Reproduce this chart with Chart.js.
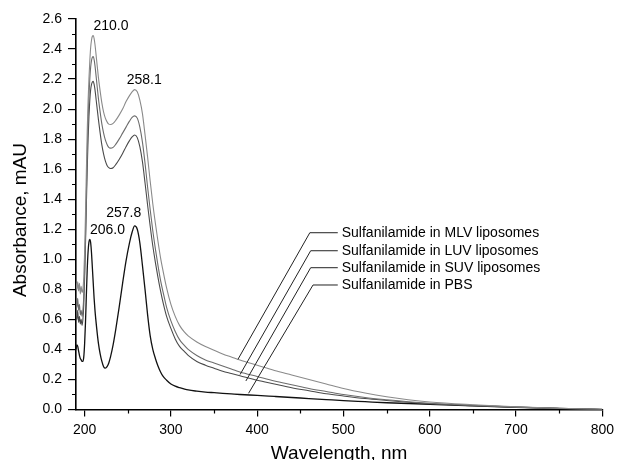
<!DOCTYPE html>
<html>
<head>
<meta charset="utf-8">
<script src="https://cdn.jsdelivr.net/npm/chart.js@4.4.1/dist/chart.umd.min.js"></script>
<style>
  html, body { margin: 0; padding: 0; background: #fff; }
  #wrap { width: 619px; height: 460px; }
</style>
</head>
<body>
<div id="wrap"><canvas id="c" width="619" height="460"></canvas></div>
<script>
// ---- data ----
const wavelengths = [190,191,192,193,194,195,196,197,198,199,200,201,202,203,204,205,206,207,208,209,210,211,212,
  214,216,218,220,222,224,226,228,230,233,236,240,244,248,252,255,258,261,264,267,270,273,276,279,282,285,288,291,295,
  300,305,310,315,320,330,340,350,360,370,380,400,420,440,460,480,500,525,550,575,600,650,700,750,800];

const mlvValues = [0.84,0.80,0.85,0.79,0.84,0.77,0.82,0.78,0.80,0.88,1.05,1.30,1.58,1.85,2.05,2.20,2.32,2.41,2.46,2.485,2.49,2.47,2.43,
  2.32,2.21,2.12,2.04,1.98,1.94,1.915,1.90,1.898,1.905,1.925,1.96,2.00,2.05,2.09,2.115,2.13,2.115,2.06,1.97,1.83,1.68,1.52,1.37,1.24,1.12,1.01,0.92,0.81,
  0.70,0.62,0.56,0.52,0.49,0.45,0.42,0.395,0.37,0.35,0.33,0.295,0.26,0.23,0.20,0.17,0.14,0.11,0.085,0.065,0.05,0.032,0.018,0.008,0.0];

const luvValues = [0.72,0.68,0.74,0.66,0.70,0.63,0.66,0.62,0.66,0.75,0.92,1.15,1.43,1.70,1.92,2.08,2.20,2.28,2.325,2.345,2.35,2.33,2.29,
  2.18,2.07,1.98,1.90,1.84,1.795,1.765,1.745,1.74,1.745,1.765,1.80,1.84,1.88,1.92,1.945,1.955,1.94,1.88,1.78,1.64,1.48,1.33,1.19,1.07,0.96,0.86,0.78,0.68,
  0.59,0.52,0.465,0.43,0.40,0.36,0.33,0.31,0.29,0.27,0.25,0.22,0.19,0.165,0.14,0.12,0.10,0.08,0.065,0.052,0.042,0.028,0.016,0.007,0.0];

const suvValues = [0.62,0.60,0.66,0.58,0.62,0.57,0.60,0.56,0.60,0.70,0.88,1.10,1.36,1.60,1.80,1.95,2.06,2.13,2.165,2.18,2.185,2.165,2.13,
  2.03,1.93,1.84,1.76,1.70,1.655,1.625,1.61,1.605,1.61,1.63,1.665,1.705,1.75,1.79,1.815,1.828,1.81,1.75,1.65,1.51,1.36,1.22,1.09,0.98,0.88,0.79,0.71,0.62,
  0.54,0.47,0.42,0.39,0.36,0.32,0.295,0.275,0.255,0.24,0.225,0.195,0.17,0.145,0.125,0.105,0.09,0.073,0.06,0.048,0.038,0.025,0.015,0.007,0.0];

const pbsValues = [0.40,0.43,0.42,0.39,0.36,0.34,0.33,0.32,0.32,0.35,0.44,0.58,0.76,0.93,1.05,1.115,1.133,1.11,1.04,0.94,0.84,0.74,0.66,
  0.54,0.44,0.37,0.32,0.285,0.275,0.285,0.31,0.35,0.43,0.53,0.68,0.84,0.99,1.11,1.18,1.222,1.20,1.11,0.96,0.80,0.63,0.49,0.40,0.34,0.29,0.25,0.22,0.195,
  0.17,0.155,0.145,0.137,0.13,0.122,0.116,0.112,0.108,0.104,0.10,0.094,0.087,0.08,0.073,0.066,0.059,0.052,0.045,0.04,0.035,0.025,0.015,0.007,0.0];

const seriesNames = ['Sulfanilamide in MLV liposomes','Sulfanilamide in LUV liposomes','Sulfanilamide in SUV liposomes','Sulfanilamide in PBS'];
const peakLabelTexts = ['210.0','258.1','257.8','206.0'];
const xTickValues = [200,300,400,500,600,700,800];
const xMinorTickValues = [250,350,450,550,650,750];
const yTickValues = [0,0.2,0.4,0.6,0.8,1.0,1.2,1.4,1.6,1.8,2.0,2.2,2.4,2.6];
const yMinorTickValues = [0.1,0.3,0.5,0.7,0.9,1.1,1.3,1.5,1.7,1.9,2.1,2.3,2.5];
const xTitle = 'Wavelength, nm';
const yTitle = 'Absorbance, mAU';

// ---- layout / style (not data) ----
const FONT = '"Liberation Sans", Arial, Helvetica, sans-serif';
const lineColors = ['#8a8a8a','#6c6c6c','#4a4a4a','#111111'];
const peakLabelPos = [[230.5,2.555],[269,2.19],[245.3,1.306],[226.5,1.195]];
const legendTextX = 498;
const legendY = [1.177,1.057,0.944,0.829];
const leaderStartX = [461,462,462,464.7];
const leaderEndX = 493.4;
const leaderTip = [[377.7,0.334],[380.2,0.233],[386.9,0.19],[390,0.108]];

const allSeries = [mlvValues, luvValues, suvValues, pbsValues];

const annotPlugin = {
  id: 'annot',
  afterDatasetsDraw(chart) {
    const ctx = chart.ctx, xs = chart.scales.x, ys = chart.scales.y;
    ctx.save();
    // minor ticks
    ctx.strokeStyle = '#000'; ctx.lineWidth = 1.2;
    ctx.beginPath();
    yMinorTickValues.forEach(v => {
      const p = Math.round(ys.getPixelForValue(v)) + 0.5;
      ctx.moveTo(xs.left - 4, p); ctx.lineTo(xs.left, p);
    });
    xMinorTickValues.forEach(v => {
      const p = Math.round(xs.getPixelForValue(v)) + 0.5;
      ctx.moveTo(p, ys.bottom); ctx.lineTo(p, ys.bottom + 4);
    });
    ctx.stroke();
    // peak labels
    ctx.fillStyle = '#000';
    ctx.font = '14px ' + FONT;
    ctx.textAlign = 'center'; ctx.textBaseline = 'middle';
    peakLabelTexts.forEach((t, i) => {
      ctx.fillText(t, xs.getPixelForValue(peakLabelPos[i][0]), ys.getPixelForValue(peakLabelPos[i][1]));
    });
    // legend with leader lines
    ctx.textAlign = 'left';
    ctx.strokeStyle = '#222'; ctx.lineWidth = 1;
    seriesNames.forEach((t, i) => {
      const yy = ys.getPixelForValue(legendY[i]);
      ctx.beginPath();
      ctx.moveTo(xs.getPixelForValue(leaderTip[i][0]), ys.getPixelForValue(leaderTip[i][1]));
      ctx.lineTo(xs.getPixelForValue(leaderStartX[i]), yy);
      ctx.lineTo(xs.getPixelForValue(leaderEndX), yy);
      ctx.stroke();
      ctx.fillText(t, xs.getPixelForValue(legendTextX), yy);
    });
    // axis titles
    ctx.font = '19px ' + FONT;
    ctx.textAlign = 'center';
    ctx.fillText(xTitle, (xs.left + xs.right) / 2, 454);
    ctx.save();
    ctx.translate(21, 220);
    ctx.rotate(-Math.PI / 2);
    ctx.fillText(yTitle, 0, 0);
    ctx.restore();
    ctx.restore();
  }
};

new Chart(document.getElementById('c'), {
  type: 'line',
  data: {
    datasets: allSeries.map((vals, i) => ({
      label: seriesNames[i],
      data: wavelengths.map((w, k) => ({ x: w, y: vals[k] })),
      borderColor: lineColors[i],
      borderWidth: i === 3 ? 1.3 : 1.1,
      pointRadius: 0,
      fill: false,
      cubicInterpolationMode: 'monotone'
    }))
  },
  options: {
    responsive: false,
    animation: false,
    devicePixelRatio: 1,
    layout: { padding: { top: 19, right: 12.3, left: 0, bottom: 0 } },
    plugins: { legend: { display: false }, tooltip: { enabled: false } },
    scales: {
      x: {
        type: 'linear', min: 190, max: 800,
        afterFit(s) { s.height = 50.5; },
        afterBuildTicks(s) { s.ticks = xTickValues.map(v => ({ value: v })); },
        ticks: { color: '#000', font: { size: 14, family: FONT }, padding: 5, maxRotation: 0, autoSkip: false,
                 callback: v => String(v) },
        grid: { drawOnChartArea: false, tickLength: 7, color: '#000', lineWidth: 1.2 },
        border: { display: true, color: '#000', width: 1.6 }
      },
      y: {
        type: 'linear', min: 0, max: 2.6,
        afterFit(s) { s.width = 76; },
        afterBuildTicks(s) { s.ticks = yTickValues.map(v => ({ value: v })); },
        ticks: { color: '#000', font: { size: 14, family: FONT }, padding: 6, autoSkip: false,
                 callback: v => Number(v).toFixed(1) },
        grid: { drawOnChartArea: false, tickLength: 8, color: '#000', lineWidth: 1.2 },
        border: { display: true, color: '#000', width: 1.6 }
      }
    }
  },
  plugins: [annotPlugin]
});
</script>
</body>
</html>
